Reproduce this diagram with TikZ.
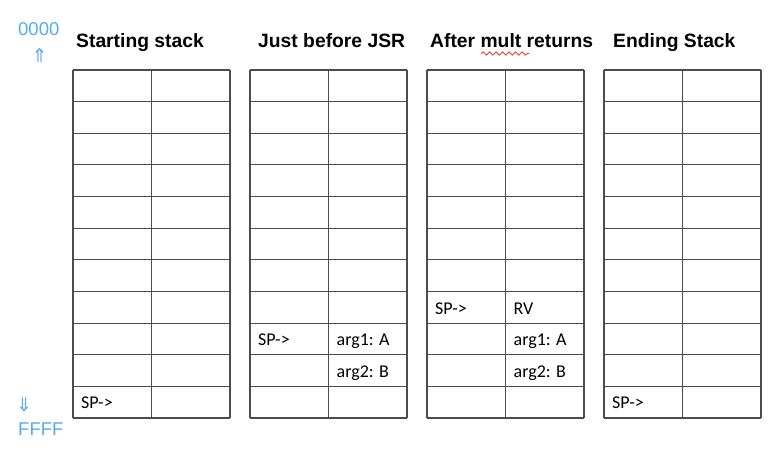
\documentclass[tikz,border=0pt]{standalone}
\usepackage{fontspec}
\setmainfont{Liberation Sans}
\newfontfamily\cellfont{Carlito}
\newfontfamily\symfont{DejaVu Sans}
\usetikzlibrary{positioning,decorations.pathmorphing}
\definecolor{addrblue}{RGB}{86,172,238}
\definecolor{spellred}{RGB}{232,62,52}

\begin{document}
\begin{tikzpicture}[x=1pt, y=1pt, gridline/.style={draw=black!70, line width=1.1pt}, title/.style={anchor=base west, inner sep=0pt, font=\fontsize{19.3}{22}\selectfont\bfseries}, cell/.style={anchor=base west, inner sep=0pt, font=\cellfont\fontsize{18}{21}\selectfont}, addr/.style={anchor=base west, inner sep=0pt, text=addrblue, font=\fontsize{18.5}{21}\selectfont}, updown/.style={inner sep=0pt, text=addrblue, font=\symfont\fontsize{19}{21}\selectfont}, squiggle/.style={draw=spellred, line width=0.9pt, decorate, decoration={snake, segment length=6.5pt, amplitude=1.6pt}}]
    \useasboundingbox (0,0) rectangle (782,452);

    \foreach \left/\name in {73/start, 250/before, 427/after, 604/ending} {
        \coordinate (\name) at (\left,382);
        \foreach \row in {0,...,11}
            \draw[gridline] ([yshift=-\row*31.636pt]\name) -- ++(157,0);
        \foreach \col in {0,78.5,157}
            \draw[gridline] ([xshift=\col pt]\name) -- ++(0,-348);
    }

    \node [title] (startTitle) at (76,404) {Starting stack};
    \node [title] (beforeTitle) at (258,404) {Just before JSR};
    \node [title] (afterTitle) at (430,404) {After mult returns};
    \node [title] (endingTitle) at (613,404) {Ending Stack};
    \draw[squiggle] (481,398.5) -- (529,398.5);

    \node [addr] (top) at (18,416) {0000};
    \node [updown] (upArrow) at (39.5,396) {⇑};
    \node [updown] (downArrow) at (24,47) {⇓};
    \node [addr] (bottom) at (18,16) {FFFF};

    \node [cell] (startSP) at (81,43) {SP->};

    \node [cell] (beforeSP) at (258,106.3) {SP->};
    \node [cell] (beforeArgA) at (336.5,106.3) {arg1: A};
    \node [cell] (beforeArgB) at (336.5,74.6) {arg2: B};

    \node [cell] (afterSP) at (435,137.9) {SP->};
    \node [cell] (afterRV) at (513.5,137.9) {RV};
    \node [cell] (afterArgA) at (513.5,106.3) {arg1: A};
    \node [cell] (afterArgB) at (513.5,74.6) {arg2: B};

    \node [cell] (endingSP) at (612,43) {SP->};

\end{tikzpicture}
\end{document}
